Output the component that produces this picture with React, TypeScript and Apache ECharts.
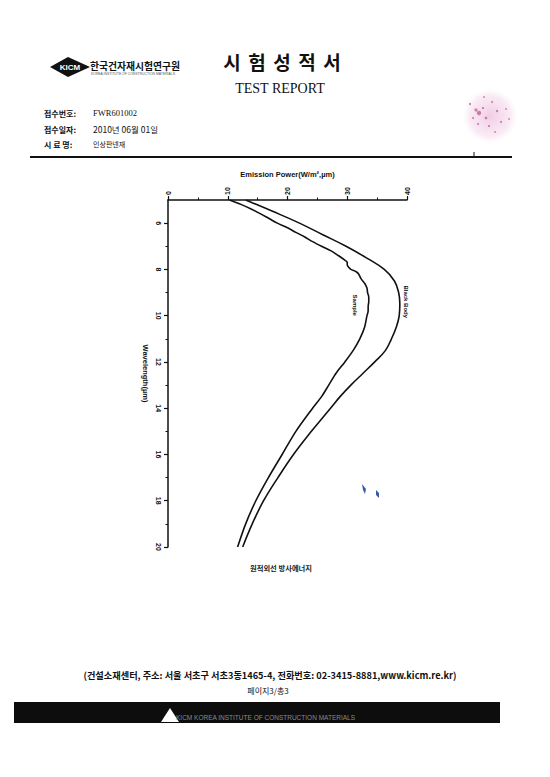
import React, { useEffect, useRef } from "react";
import * as echarts from "echarts";

// Wavelength (µm) sampled along each curve
const bbWavelength = [5.0, 5.5, 6.0, 6.5, 7.0, 7.5, 8.0, 8.5, 9.0, 9.5, 10.0, 10.5, 11.0, 11.5, 12.0, 12.5, 13.0, 13.5, 14.0, 15.0, 16.0, 17.0, 18.0, 19.0, 20.0];
// Black body emission power (W/m²·µm)
const bbPower = [13.0, 17.6, 22.0, 25.9, 29.8, 33.2, 36.2, 37.9, 38.6, 38.8, 38.7, 38.2, 37.4, 36.4, 34.6, 32.6, 30.6, 28.8, 27.2, 24.0, 21.0, 18.4, 16.0, 14.1, 12.5];

const sampleWavelength = [5.0, 5.2, 5.4, 5.6, 5.8, 6.0, 6.2, 6.4, 6.6, 6.8, 7.0, 7.2, 7.4, 7.6, 7.7, 7.8, 7.9, 8.0, 8.1, 8.2, 8.4, 8.6, 8.8, 9.0, 9.2, 9.4, 9.6, 9.8, 10.0, 10.5, 11.0, 11.5, 12.0, 12.5, 13.0, 13.5, 14.0, 15.0, 16.0, 17.0, 18.0, 19.0, 20.0];
// Sample emission power (W/m²·µm)
const samplePower = [10.3, 12.3, 14.0, 15.5, 16.9, 18.3, 20.0, 21.4, 22.9, 24.2, 25.7, 27.3, 28.5, 29.6, 30.0, 30.0, 30.2, 30.6, 31.5, 31.9, 32.3, 32.9, 33.3, 33.4, 33.6, 33.6, 33.5, 33.5, 33.3, 32.9, 32.1, 31.0, 29.6, 28.1, 26.9, 25.7, 24.2, 21.4, 19.1, 16.8, 14.7, 13.0, 11.65];

const powerTicks = [0, 10, 20, 30, 40];
const wavelengthMajor = [6, 8, 10, 12, 14, 16, 18, 20];
const wavelengthMinor = [7, 9, 11, 13, 15, 17, 19];

const titleChars = ["시", "험", "성", "적", "서"];

const CJK = '"Noto Sans CJK KR", "Noto Sans", sans-serif';
const SANS = '"Liberation Sans", Arial, sans-serif';
const SERIF = '"Liberation Serif", "DejaVu Serif", serif';

// speckles of the red ink seal
const sealDots: [number, number, number][] = [
  [470, 104, 1.2], [476, 110, 1.6], [479, 113, 2.2], [483, 108, 1.1], [486, 118, 1.3],
  [492, 102, 1.0], [497, 111, 1.2], [501, 122, 1.0], [489, 126, 1.1], [478, 124, 1.0],
  [506, 109, 0.9], [495, 132, 0.9], [473, 118, 1.0], [509, 119, 0.9], [484, 97, 0.9],
];

export default function App() {
  const ref = useRef<HTMLDivElement>(null);

  useEffect(() => {
    if (!ref.current) return;
    const chart = echarts.init(ref.current, undefined, { renderer: "svg" });

    const bbData = bbWavelength.map((w, i) => [bbPower[i], w]);
    const sampleData = sampleWavelength.map((w, i) => [samplePower[i], w]);

    const axisFont = { fontFamily: SANS, fontWeight: "bold" as const, fontSize: 7, color: "#111" };

    const titleEls = titleChars.map((c, i) => ({
      type: "text",
      x: 232 + i * 25,
      y: 61,
      style: { text: c, fill: "#111", font: `bold 19px ${CJK}`, align: "center", verticalAlign: "middle" },
    }));

    const sealEls = sealDots.map(([cx, cy, r]) => ({
      type: "circle",
      shape: { cx, cy, r },
      style: { fill: "rgba(170,40,110,0.55)" },
    }));

    chart.setOption({
      animation: false,
      backgroundColor: "#ffffff",
      grid: { left: 168, top: 200, width: 239, height: 347, outerBoundsMode: "none" },
      xAxis: {
        type: "value",
        position: "top",
        min: 0,
        max: 40,
        interval: 10,
        name: "Emission Power(W/m\u00b2,\u00b5m)",
        nameLocation: "middle",
        nameGap: 22,
        nameTextStyle: { fontFamily: SANS, fontWeight: "bold", fontSize: 7.5, color: "#111" },
        axisLine: { show: true, lineStyle: { color: "#111", width: 1.5 } },
        axisTick: { show: true, length: 4, lineStyle: { color: "#111", width: 1.2 } },
        minorTick: { show: true, splitNumber: 2, length: 2.5, lineStyle: { color: "#111", width: 1 } },
        axisLabel: { ...axisFont, rotate: -90, margin: 5, customValues: powerTicks },
        splitLine: { show: false },
        minorSplitLine: { show: false },
      },
      yAxis: [
        {
          type: "value",
          position: "left",
          inverse: true,
          min: 5,
          max: 20,
          interval: 1,
          name: "Wavelength(\u00b5m)",
          nameLocation: "middle",
          nameRotate: -90,
          nameGap: 19,
          nameTextStyle: { fontFamily: SANS, fontWeight: "bold", fontSize: 7.5, color: "#111" },
          axisLine: { show: true, lineStyle: { color: "#111", width: 1.5 } },
          axisTick: { show: true, length: 4, customValues: wavelengthMajor, lineStyle: { color: "#111", width: 1.2 } },
          axisLabel: {
            ...axisFont,
            rotate: -90,
            margin: 6,
            customValues: wavelengthMajor,
            formatter: (v: number) => (v % 2 === 0 ? String(v) : ""),
          },
          splitLine: { show: false },
        },
        {
          type: "value",
          position: "left",
          inverse: true,
          min: 5,
          max: 20,
          interval: 1,
          axisLine: { show: false },
          axisTick: { show: true, length: 2.5, customValues: wavelengthMinor, lineStyle: { color: "#111", width: 1 } },
          axisLabel: { show: false },
          splitLine: { show: false },
        },
      ],
      series: [
        {
          name: "Black Body",
          type: "line",
          yAxisIndex: 0,
          data: bbData,
          smooth: 0.4,
          symbol: "none",
          lineStyle: { color: "#111", width: 1.6 },
          markPoint: {
            symbol: "circle",
            symbolSize: 0,
            label: { show: true, formatter: "Black Body", rotate: -90, ...axisFont, fontSize: 6 },
            data: [{ coord: [39.9, 9.4] }],
          },
        },
        {
          name: "Sample",
          type: "line",
          yAxisIndex: 0,
          data: sampleData,
          smooth: 0.3,
          symbol: "none",
          lineStyle: { color: "#111", width: 1.6 },
          markPoint: {
            symbol: "circle",
            symbolSize: 0,
            label: { show: true, formatter: "Sample", rotate: -90, ...axisFont, fontSize: 6 },
            data: [{ coord: [31.3, 9.55] }],
          },
        },
      ],
      graphic: {
        elements: [
          // institute logo
          { type: "polygon", shape: { points: [[50, 67], [68, 57], [90, 67], [68, 77]] }, style: { fill: "#111" } },
          { type: "text", x: 70, y: 67, style: { text: "KICM", fill: "#fff", font: `bold 8px ${SANS}`, align: "center", verticalAlign: "middle" } },
          { type: "text", x: 90, y: 66, style: { text: "한국건자재시험연구원", fill: "#111", font: `bold 9.8px ${CJK}`, verticalAlign: "middle" } },
          { type: "text", x: 91, y: 73.5, style: { text: "KOREA INSTITUTE OF CONSTRUCTION MATERIALS", fill: "#555", font: `3.4px ${SANS}`, verticalAlign: "middle" } },
          // title
          ...titleEls,
          { type: "text", x: 280, y: 88, style: { text: "TEST REPORT", fill: "#111", font: `14px ${SERIF}`, align: "center", verticalAlign: "middle" } },
          // report fields
          { type: "text", x: 44, y: 113, style: { text: "접수번호:", fill: "#111", font: `bold 8px ${CJK}`, verticalAlign: "middle" } },
          { type: "text", x: 93, y: 113, style: { text: "FWR601002", fill: "#111", font: `8.5px ${SERIF}`, verticalAlign: "middle" } },
          { type: "text", x: 44, y: 129, style: { text: "접수일자:", fill: "#111", font: `bold 8px ${CJK}`, verticalAlign: "middle" } },
          { type: "text", x: 93, y: 129, style: { text: "2010년 06월 01일", fill: "#111", font: `8.5px ${CJK}`, verticalAlign: "middle" } },
          { type: "text", x: 44, y: 144, style: { text: "시 료 명:", fill: "#111", font: `bold 8px ${CJK}`, verticalAlign: "middle" } },
          { type: "text", x: 93, y: 144, style: { text: "인상판넨재", fill: "#111", font: `7px ${CJK}`, verticalAlign: "middle" } },
          // header rule
          { type: "line", shape: { x1: 30, y1: 157, x2: 512, y2: 157 }, style: { stroke: "#111", lineWidth: 2 } },
          { type: "line", shape: { x1: 474, y1: 152, x2: 474, y2: 157 }, style: { stroke: "#111", lineWidth: 1 } },
          // seal
          {
            type: "circle",
            shape: { cx: 490, cy: 116, r: 27 },
            style: {
              fill: new echarts.graphic.RadialGradient(0.5, 0.5, 0.5, [
                { offset: 0, color: "rgba(215,110,180,0.35)" },
                { offset: 0.75, color: "rgba(225,140,195,0.18)" },
                { offset: 1, color: "rgba(235,170,210,0)" },
              ]),
            },
          },
          ...sealEls,
          // ink marks
          { type: "polygon", shape: { points: [[362, 484], [366, 489], [365, 494], [363, 490]] }, style: { fill: "#3d5aa8" } },
          { type: "polygon", shape: { points: [[376, 490], [379, 493], [379, 498], [376, 495]] }, style: { fill: "#3d5aa8" } },
          // caption
          { type: "text", x: 281, y: 568, style: { text: "원적외선 방사에너지", fill: "#222", font: `bold 7.3px ${CJK}`, align: "center", verticalAlign: "middle" } },
          // footer
          {
            type: "text",
            x: 270,
            y: 675,
            style: {
              text: "(건설소재센터, 주소: 서울 서초구 서초3동1465-4, 전화번호: 02-3415-8881,www.kicm.re.kr)",
              fill: "#111",
              font: `bold 9.2px ${CJK}`,
              align: "center",
              verticalAlign: "middle",
            },
          },
          { type: "text", x: 268, y: 690, style: { text: "페이지3/총3", fill: "#111", font: `8px ${CJK}`, align: "center", verticalAlign: "middle" } },
          { type: "rect", shape: { x: 14, y: 702, width: 486, height: 21 }, style: { fill: "#0d0d0d" } },
          { type: "polygon", shape: { points: [[161, 722], [170, 708], [179, 722]] }, style: { fill: "#fff" } },
          { type: "text", x: 176, y: 717, style: { text: "KICM KOREA INSTITUTE OF CONSTRUCTION MATERIALS", fill: "#8a8a8a", font: `6.5px ${SANS}`, verticalAlign: "middle" } },
        ],
      },
    });

    return () => chart.dispose();
  }, []);

  return (
    <div
      ref={ref}
      style={{ position: "fixed", left: 0, top: 0, width: 550, height: 777, background: "#fff" }}
    />
  );
}
